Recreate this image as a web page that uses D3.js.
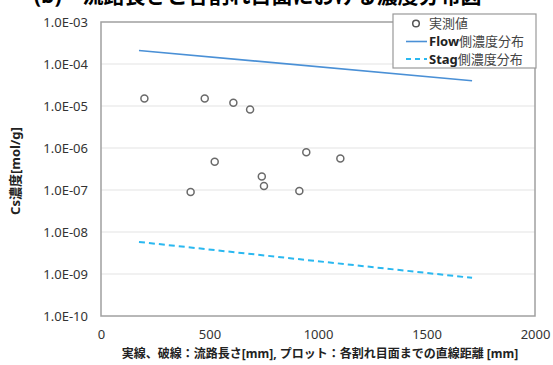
<!DOCTYPE html>
<html>
<head>
<meta charset="utf-8">
<script src="https://cdn.jsdelivr.net/npm/d3@7"></script>
<style>
  html, body { margin: 0; padding: 0; background: #fff; }
  svg { display: block; }
</style>
</head>
<body>
<svg id="chart" width="553" height="365"></svg>
<script>
// Measured Cs concentrations: straight-line distance to each fracture face [mm]
const measuredDistance = [200, 478, 610, 687, 524, 946, 1103, 741, 751, 413, 914];
const measuredConc     = [1.5e-5, 1.5e-5, 1.2e-5, 8.3e-6, 4.7e-7, 7.9e-7, 5.6e-7, 2.1e-7, 1.25e-7, 9.0e-8, 9.5e-8];

// Computed distributions along the flow path length [mm]
const pathLength = [175, 1710];
const flowConc   = [2.1e-4, 4.0e-5];
const stagConc   = [5.8e-9, 8.1e-10];

// Axis ticks
const xTicks = [0, 500, 1000, 1500, 2000];
const yTicks = [1e-3, 1e-4, 1e-5, 1e-6, 1e-7, 1e-8, 1e-9, 1e-10];

const legendLabels = [
  { bold: "", rest: "実測値" },
  { bold: "Flow", rest: "側濃度分布" },
  { bold: "Stag", rest: "側濃度分布" }
];

const svg = d3.select("#chart");
const font = "'Noto Sans', 'Noto Sans CJK JP', sans-serif";
const margin = { left: 101, right: 18, top: 22, bottom: 49 };
const W = 553, H = 365;

const x = d3.scaleLinear().domain([0, 2000]).range([margin.left, W - margin.right]);
const y = d3.scaleLog().domain([1e-10, 1e-3]).range([H - margin.bottom, margin.top]);

// Title (runs above the top edge of the frame)
svg.append("text")
  .attr("x", 34).attr("y", 3)
  .attr("font-family", font).attr("font-size", 21).attr("font-weight", 700)
  .attr("fill", "#000")
  .text("(b)　流路長さと各割れ目面における濃度分布図");

// Gridlines
svg.append("g")
  .selectAll("line")
  .data(yTicks.slice(1, -1))
  .join("line")
  .attr("x1", x(0)).attr("x2", x(2000))
  .attr("y1", d => y(d)).attr("y2", d => y(d))
  .attr("stroke", "#e3e3e3").attr("stroke-width", 1);

// Plot frame
svg.append("rect")
  .attr("x", x(0)).attr("y", y(1e-3))
  .attr("width", x(2000) - x(0)).attr("height", y(1e-10) - y(1e-3))
  .attr("fill", "none").attr("stroke", "#a0a0a0").attr("stroke-width", 1.5);

// Y axis
const yAxis = d3.axisLeft(y).tickValues(yTicks).tickSize(0).tickPadding(13)
  .tickFormat(d => "1.0E-" + String(Math.round(-Math.log10(d))).padStart(2, "0"));
const gy = svg.append("g").attr("transform", `translate(${x(0)},0)`).call(yAxis);
gy.select(".domain").remove();
gy.selectAll("text").attr("font-family", font).attr("font-size", 13).attr("fill", "#333");

// X axis
const xAxis = d3.axisBottom(x).tickValues(xTicks).tickSize(0).tickPadding(14).tickFormat(d3.format("d"));
const gx = svg.append("g").attr("transform", `translate(0,${y(1e-10)})`).call(xAxis);
gx.select(".domain").remove();
gx.selectAll("text").attr("font-family", font).attr("font-size", 13).attr("fill", "#333");

// Axis titles
svg.append("text")
  .attr("transform", `translate(20,${(y(1e-3) + y(1e-10)) / 2 + 2}) rotate(-90)`)
  .attr("text-anchor", "middle")
  .attr("font-family", font).attr("font-size", 13).attr("font-weight", 700).attr("fill", "#222")
  .text("Cs濃度[mol/g]");

svg.append("text")
  .attr("x", 320).attr("y", 358)
  .attr("text-anchor", "middle")
  .attr("font-family", font).attr("font-size", 12).attr("font-weight", 700).attr("fill", "#222")
  .text("実線、破線：流路長さ[mm], プロット：各割れ目面までの直線距離 [mm]");

// Distribution lines
const line = d3.line().x(d => x(d[0])).y(d => y(d[1]));
svg.append("path")
  .datum(pathLength.map((d, i) => [d, flowConc[i]]))
  .attr("d", line).attr("fill", "none")
  .attr("stroke", "#4a90d6").attr("stroke-width", 1.6);
svg.append("path")
  .datum(pathLength.map((d, i) => [d, stagConc[i]]))
  .attr("d", line).attr("fill", "none")
  .attr("stroke", "#2ab8f0").attr("stroke-width", 2)
  .attr("stroke-dasharray", "6,4");

// Measured points
svg.append("g")
  .selectAll("circle")
  .data(measuredDistance.map((d, i) => [d, measuredConc[i]]))
  .join("circle")
  .attr("cx", d => x(d[0])).attr("cy", d => y(d[1]))
  .attr("r", 3.5)
  .attr("fill", "#fff").attr("stroke", "#6a6a6a").attr("stroke-width", 1.5);

// Legend
const lg = svg.append("g");
lg.append("rect")
  .attr("x", 393).attr("y", 14).attr("width", 143).attr("height", 54)
  .attr("fill", "#fff").attr("stroke", "#999").attr("stroke-width", 1.2);

const rowY = [23.5, 41.5, 59];
lg.append("circle").attr("cx", 416).attr("cy", rowY[0]).attr("r", 3.3)
  .attr("fill", "#fff").attr("stroke", "#555").attr("stroke-width", 1.5);
lg.append("line").attr("x1", 406).attr("x2", 427).attr("y1", rowY[1]).attr("y2", rowY[1])
  .attr("stroke", "#4a90d6").attr("stroke-width", 1.6);
lg.append("line").attr("x1", 406).attr("x2", 427).attr("y1", rowY[2]).attr("y2", rowY[2])
  .attr("stroke", "#2ab8f0").attr("stroke-width", 2).attr("stroke-dasharray", "5,4");

legendLabels.forEach((lab, i) => {
  const t = lg.append("text")
    .attr("x", 429).attr("y", rowY[i] + 4.5)
    .attr("font-family", font).attr("font-size", 13).attr("fill", "#444");
  if (lab.bold) t.append("tspan").attr("font-weight", 700).attr("fill", "#222").text(lab.bold);
  t.append("tspan").text(lab.rest);
});
</script>
</body>
</html>
